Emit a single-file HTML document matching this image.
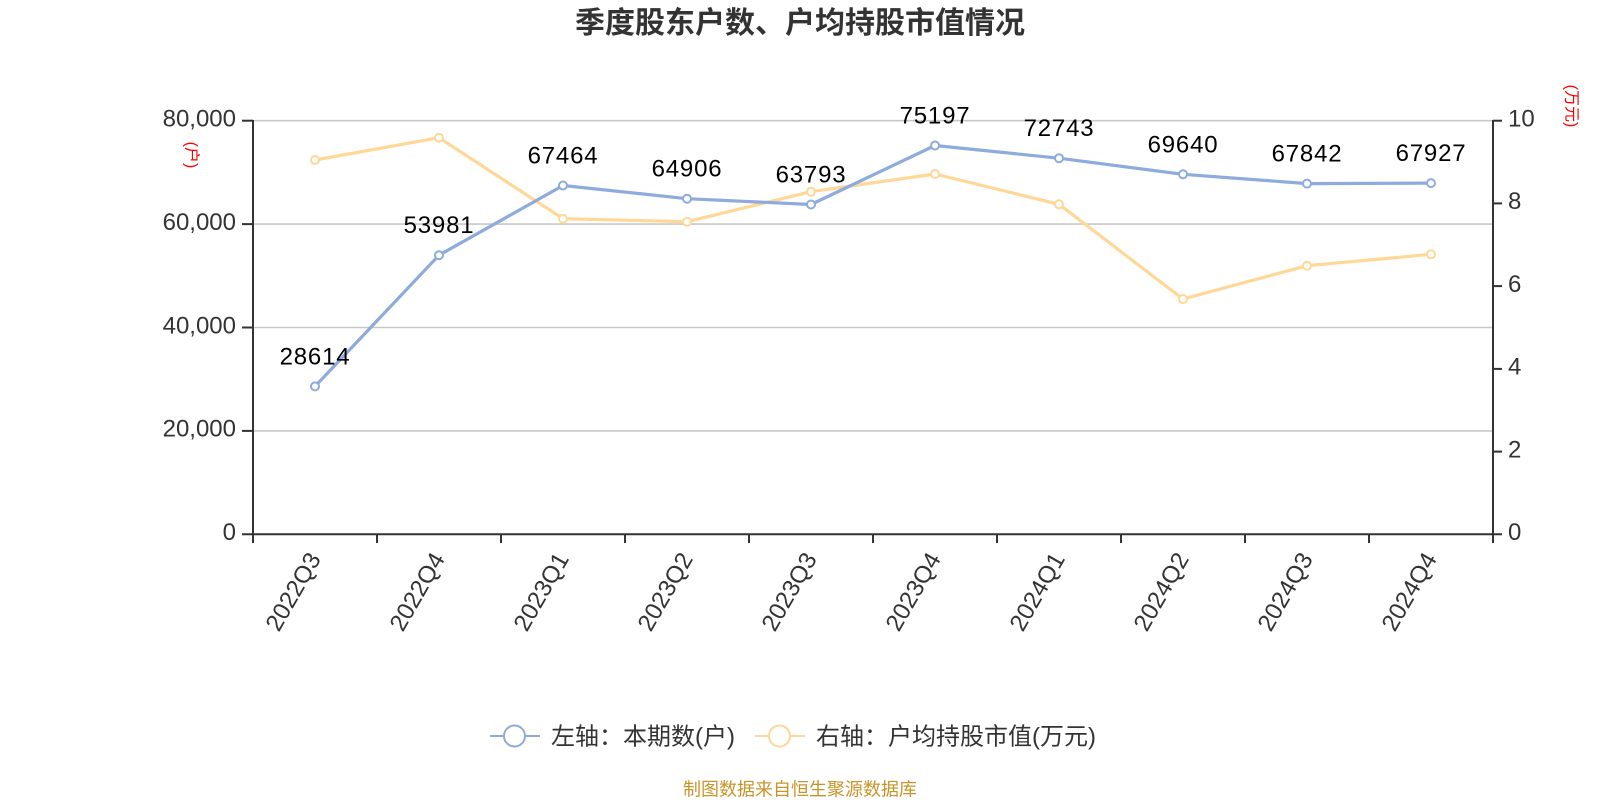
<!DOCTYPE html>
<html>
<head>
<meta charset="utf-8">
<style>
  html, body { margin: 0; padding: 0; background: #fff; }
  svg { display: block; }
  text { font-family: "Liberation Sans", "Noto Sans CJK SC", sans-serif; }
</style>
</head>
<body>
<svg width="1600" height="800" viewBox="0 0 1600 800" xmlns="http://www.w3.org/2000/svg">
  <rect width="1600" height="800" fill="#ffffff"/>

  <!-- Title -->
  <text x="800" y="33" text-anchor="middle" font-size="30" font-weight="bold" fill="#333">季度股东户数、户均持股市值情况</text>

  <!-- Gridlines -->
  <g stroke="#c8c8c8" stroke-width="1.6">
    <line x1="253" y1="120.7" x2="1493" y2="120.7"/>
    <line x1="253" y1="224.1" x2="1493" y2="224.1"/>
    <line x1="253" y1="327.5" x2="1493" y2="327.5"/>
    <line x1="253" y1="430.9" x2="1493" y2="430.9"/>
  </g>

  <!-- Axes -->
  <g stroke="#333" stroke-width="2">
    <line x1="253" y1="120" x2="253" y2="535"/>
    <line x1="1493" y1="120" x2="1493" y2="535"/>
    <line x1="242" y1="534.3" x2="1502" y2="534.3"/>
    <line x1="242" y1="120.7" x2="253" y2="120.7"/>
    <line x1="242" y1="224.1" x2="253" y2="224.1"/>
    <line x1="242" y1="327.5" x2="253" y2="327.5"/>
    <line x1="242" y1="430.9" x2="253" y2="430.9"/>
    <line x1="1493" y1="120.7" x2="1502" y2="120.7"/>
    <line x1="1493" y1="203.4" x2="1502" y2="203.4"/>
    <line x1="1493" y1="286.1" x2="1502" y2="286.1"/>
    <line x1="1493" y1="368.9" x2="1502" y2="368.9"/>
    <line x1="1493" y1="451.6" x2="1502" y2="451.6"/>
    <line x1="253" y1="534" x2="253" y2="543"/>
    <line x1="377" y1="534" x2="377" y2="543"/>
    <line x1="501" y1="534" x2="501" y2="543"/>
    <line x1="625" y1="534" x2="625" y2="543"/>
    <line x1="749" y1="534" x2="749" y2="543"/>
    <line x1="873" y1="534" x2="873" y2="543"/>
    <line x1="997" y1="534" x2="997" y2="543"/>
    <line x1="1121" y1="534" x2="1121" y2="543"/>
    <line x1="1245" y1="534" x2="1245" y2="543"/>
    <line x1="1369" y1="534" x2="1369" y2="543"/>
    <line x1="1493" y1="534" x2="1493" y2="543"/>
  </g>

  <!-- Left axis labels -->
  <g font-size="24" fill="#333" text-anchor="end">
    <text x="236" y="126.5">80,000</text>
    <text x="236" y="229.9">60,000</text>
    <text x="236" y="333.3">40,000</text>
    <text x="236" y="436.7">20,000</text>
    <text x="236" y="540.1">0</text>
  </g>
  <!-- Right axis labels -->
  <g font-size="24" fill="#333" text-anchor="start">
    <text x="1508" y="126.5">10</text>
    <text x="1508" y="209.2">8</text>
    <text x="1508" y="291.9">6</text>
    <text x="1508" y="374.7">4</text>
    <text x="1508" y="457.4">2</text>
    <text x="1508" y="540.1">0</text>
  </g>

  <!-- Axis names -->
  <text x="191" y="155" font-size="16" fill="#ff0000" text-anchor="middle" dominant-baseline="central" transform="rotate(90 191 155)">(户)</text>
  <text x="1571" y="106" font-size="16" fill="#ff0000" text-anchor="middle" dominant-baseline="central" transform="rotate(90 1571 106)">(万元)</text>

  <!-- X labels -->
  <g font-size="24" fill="#333" text-anchor="end" dominant-baseline="central">
    <text x="315" y="555" transform="rotate(-60 315 555)">2022Q3</text>
    <text x="439" y="555" transform="rotate(-60 439 555)">2022Q4</text>
    <text x="563" y="555" transform="rotate(-60 563 555)">2023Q1</text>
    <text x="687" y="555" transform="rotate(-60 687 555)">2023Q2</text>
    <text x="811" y="555" transform="rotate(-60 811 555)">2023Q3</text>
    <text x="935" y="555" transform="rotate(-60 935 555)">2023Q4</text>
    <text x="1059" y="555" transform="rotate(-60 1059 555)">2024Q1</text>
    <text x="1183" y="555" transform="rotate(-60 1183 555)">2024Q2</text>
    <text x="1307" y="555" transform="rotate(-60 1307 555)">2024Q3</text>
    <text x="1431" y="555" transform="rotate(-60 1431 555)">2024Q4</text>
  </g>

  <!-- Yellow series (right axis) -->
  <polyline fill="none" stroke="#ffd797" stroke-width="3.2" stroke-linejoin="round"
    points="315,160 439,137.7 563,218.7 687,221.7 811,191.7 935,174 1059,204.3 1183,299 1307,265.7 1431,254.3"/>
  <g fill="#fff" stroke="#ffd797" stroke-width="2">
    <circle cx="315" cy="160" r="4"/>
    <circle cx="439" cy="137.7" r="4"/>
    <circle cx="563" cy="218.7" r="4"/>
    <circle cx="687" cy="221.7" r="4"/>
    <circle cx="811" cy="191.7" r="4"/>
    <circle cx="935" cy="174" r="4"/>
    <circle cx="1059" cy="204.3" r="4"/>
    <circle cx="1183" cy="299" r="4"/>
    <circle cx="1307" cy="265.7" r="4"/>
    <circle cx="1431" cy="254.3" r="4"/>
  </g>

  <!-- Blue series (left axis) -->
  <polyline fill="none" stroke="#8dabdc" stroke-width="3.2" stroke-linejoin="round"
    points="315,386.4 439,255.2 563,185.5 687,198.7 811,204.5 935,145.5 1059,158.2 1183,174.3 1307,183.6 1431,183.1"/>
  <g fill="#fff" stroke="#8dabdc" stroke-width="2">
    <circle cx="315" cy="386.4" r="4"/>
    <circle cx="439" cy="255.2" r="4"/>
    <circle cx="563" cy="185.5" r="4"/>
    <circle cx="687" cy="198.7" r="4"/>
    <circle cx="811" cy="204.5" r="4"/>
    <circle cx="935" cy="145.5" r="4"/>
    <circle cx="1059" cy="158.2" r="4"/>
    <circle cx="1183" cy="174.3" r="4"/>
    <circle cx="1307" cy="183.6" r="4"/>
    <circle cx="1431" cy="183.1" r="4"/>
  </g>

  <!-- Data labels -->
  <g font-size="24" fill="#000" text-anchor="middle" letter-spacing="0.8">
    <text x="315" y="364.4">28614</text>
    <text x="439" y="233.2">53981</text>
    <text x="563" y="163.5">67464</text>
    <text x="687" y="176.7">64906</text>
    <text x="811" y="182.5">63793</text>
    <text x="935" y="123.5">75197</text>
    <text x="1059" y="136.2">72743</text>
    <text x="1183" y="152.3">69640</text>
    <text x="1307" y="161.6">67842</text>
    <text x="1431" y="161.1">67927</text>
  </g>

  <!-- Legend -->
  <line x1="490" y1="736" x2="540" y2="736" stroke="#8dabdc" stroke-width="2"/>
  <circle cx="514.5" cy="736" r="10.5" fill="#fff" stroke="#8dabdc" stroke-width="2"/>
  <text x="551" y="744.5" font-size="24" fill="#333">左轴：本期数(户)</text>

  <line x1="755" y1="736" x2="805" y2="736" stroke="#ffd797" stroke-width="2"/>
  <circle cx="779.5" cy="736" r="10.5" fill="#fff" stroke="#ffd797" stroke-width="2"/>
  <text x="816" y="744.5" font-size="24" fill="#333">右轴：户均持股市值(万元)</text>

  <!-- Footer -->
  <text x="800" y="795.5" font-size="18" fill="#c9942a" text-anchor="middle">制图数据来自恒生聚源数据库</text>
</svg>
</body>
</html>
